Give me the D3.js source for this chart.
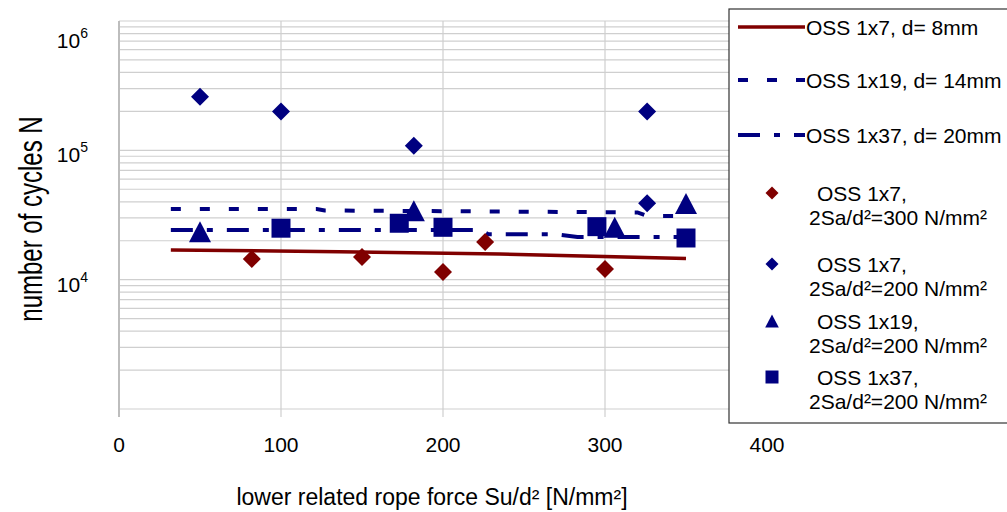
<!DOCTYPE html>
<html>
<head>
<meta charset="utf-8">
<script src="https://cdn.jsdelivr.net/npm/d3@7"></script>
<style>
  body { margin: 0; background: #fff; }
  svg { display: block; font-family: "Liberation Sans", Arial, sans-serif; }
</style>
</head>
<body>
<svg id="chart" width="1007" height="512"></svg>
<script>
var width = 1007;
var height = 512;

// x ticks and y decades
var xTicks = [0, 100, 200, 300, 400];
var yDecades = [1e4, 1e5, 1e6];

// fitted lines [Su/d², N]
var line1x7 = [[32, 16960], [136, 16450], [235, 15800], [350, 14600]];
var line1x19 = [[32, 35200], [122, 35200], [127, 34300], [320, 33100], [326, 31100], [350, 31100]];
var line1x37 = [[32, 24200], [223, 24200], [228, 22400], [270, 22400], [283, 21400], [350, 21400]];

// test points [Su/d², N]
var pts1x7_300 = [[82, 14450], [150, 14970], [200, 11460], [226, 19550], [300, 12090]];
var pts1x7_200 = [[50, 260000], [100, 200000], [182, 108600], [326, 200000], [326, 38900]];
var pts1x19_200 = [[50, 23500], [182, 34100], [306, 25400], [350, 38800]];
var pts1x37_200 = [[100, 25000], [173, 27300], [200, 25400], [295, 25700], [350, 21000]];

var red = "#800000";
var navy = "#000080";

var svg = d3.select("#chart");

var x = d3.scaleLinear().domain([0, 400]).range([119, 767]);
var y = d3.scaleLog().domain([1e3, 1e6]).range([409, 21]);

// grid
var grid = svg.append("g");
grid.selectAll("line.h")
    .data(y.ticks())
    .enter()
    .append("line")
    .attr("class", "h")
    .attr("x1", x(0))
    .attr("x2", x(400))
    .attr("y1", function(d){ return y(d); })
    .attr("y2", function(d){ return y(d); })
    .attr("stroke", "#cfcfcf")
    .attr("stroke-width", 1.2);

grid.selectAll("line.v")
    .data(xTicks)
    .enter()
    .append("line")
    .attr("class", "v")
    .attr("x1", function(d){ return x(d); })
    .attr("x2", function(d){ return x(d); })
    .attr("y1", y(1e6))
    .attr("y2", y(1e3) + 8)
    .attr("stroke", function(d){ return d === 0 ? "#bdbdbd" : "#cfcfcf"; })
    .attr("stroke-width", function(d){ return d === 0 ? 2 : 1.2; });

// x tick labels
svg.append("g")
    .selectAll("text")
    .data(xTicks)
    .enter()
    .append("text")
    .attr("x", function(d){ return x(d); })
    .attr("y", 452)
    .attr("text-anchor", "middle")
    .attr("font-size", 21)
    .text(function(d){ return d; });

// y tick labels 10^n
var yl = svg.append("g")
    .selectAll("text")
    .data(yDecades)
    .enter()
    .append("text")
    .attr("x", 88)
    .attr("y", function(d){ return Math.max(y(d) + 4, 40) + 8; })
    .attr("text-anchor", "end")
    .attr("font-size", 21);
yl.append("tspan").text("10");
yl.append("tspan")
    .attr("font-size", 14)
    .attr("dy", -10)
    .text(function(d){ return Math.round(Math.log10(d)); });

// axis titles
svg.append("text")
    .attr("x", 432)
    .attr("y", 505)
    .attr("text-anchor", "middle")
    .attr("font-size", 23)
    .text("lower related rope force Su/d\u00b2 [N/mm\u00b2]");

svg.append("text")
    .attr("transform", "translate(42,219) rotate(-90) scale(1,1.4)")
    .attr("text-anchor", "middle")
    .attr("font-size", 24)
    .text("number of cycles N");

// lines
var line = d3.line()
    .x(function(d){ return x(d[0]); })
    .y(function(d){ return y(d[1]); });

var lineSeries = [
    { data: line1x7, color: red, dash: null, w: 3.5 },
    { data: line1x19, color: navy, dash: "10,19", w: 4 },
    { data: line1x37, color: navy, dash: "22,14,6,14", w: 4 }
];

svg.append("g")
    .selectAll("path")
    .data(lineSeries)
    .enter()
    .append("path")
    .attr("d", function(d){ return line(d.data); })
    .attr("fill", "none")
    .attr("stroke", function(d){ return d.color; })
    .attr("stroke-width", function(d){ return d.w; })
    .attr("stroke-dasharray", function(d){ return d.dash; });

// marker shapes centred on the point
function marker(shape, s) {
    var h = s / 2;
    if (shape === "diamond") return "M0," + (-h) + "L" + h + ",0L0," + h + "L" + (-h) + ",0Z";
    if (shape === "triangle") return "M0," + (-h) + "L" + (h * 1.05) + "," + h + "L" + (-h * 1.05) + "," + h + "Z";
    return "M" + (-h) + "," + (-h) + "H" + h + "V" + h + "H" + (-h) + "Z";
}

var pointSeries = [
    { data: pts1x7_300, color: red, shape: "diamond", size: 18 },
    { data: pts1x7_200, color: navy, shape: "diamond", size: 18 },
    { data: pts1x19_200, color: navy, shape: "triangle", size: 21 },
    { data: pts1x37_200, color: navy, shape: "square", size: 19 }
];

pointSeries.forEach(function(s) {
    svg.append("g")
        .selectAll("path")
        .data(s.data)
        .enter()
        .append("path")
        .attr("transform", function(d){ return "translate(" + x(d[0]) + "," + y(d[1]) + ")"; })
        .attr("d", marker(s.shape, s.size))
        .attr("fill", s.color);
});

// legend
var lg = svg.append("g");
lg.append("rect")
    .attr("x", 729)
    .attr("y", 9)
    .attr("width", 290)
    .attr("height", 414)
    .attr("fill", "#fff")
    .attr("stroke", "#333")
    .attr("stroke-width", 1.2);

var lineLegend = [
    { label: "OSS 1x7, d= 8mm", s: lineSeries[0], cy: 27 },
    { label: "OSS 1x19, d= 14mm", s: lineSeries[1], cy: 80 },
    { label: "OSS 1x37, d= 20mm", s: lineSeries[2], cy: 135 }
];

lineLegend.forEach(function(d) {
    lg.append("line")
        .attr("x1", 738).attr("x2", 805)
        .attr("y1", d.cy).attr("y2", d.cy)
        .attr("stroke", d.s.color)
        .attr("stroke-width", d.s.w)
        .attr("stroke-dasharray", d.s.dash);
    lg.append("text")
        .attr("x", 806)
        .attr("y", d.cy + 8)
        .attr("font-size", 21)
        .text(d.label);
});

var pointLegend = [
    { l1: "OSS 1x7,", l2: "2Sa/d\u00b2=300 N/mm\u00b2", s: pointSeries[0], cy: 193 },
    { l1: "OSS 1x7,", l2: "2Sa/d\u00b2=200 N/mm\u00b2", s: pointSeries[1], cy: 264 },
    { l1: "OSS 1x19,", l2: "2Sa/d\u00b2=200 N/mm\u00b2", s: pointSeries[2], cy: 321 },
    { l1: "OSS 1x37,", l2: "2Sa/d\u00b2=200 N/mm\u00b2", s: pointSeries[3], cy: 377 }
];

pointLegend.forEach(function(d) {
    lg.append("path")
        .attr("transform", "translate(772," + d.cy + ")")
        .attr("d", marker(d.s.shape, 13))
        .attr("fill", d.s.color);
    lg.append("text")
        .attr("x", 817)
        .attr("y", d.cy + 8)
        .attr("font-size", 21)
        .text(d.l1);
    lg.append("text")
        .attr("x", 809)
        .attr("y", d.cy + 32)
        .attr("font-size", 21)
        .text(d.l2);
});
</script>
</body>
</html>
